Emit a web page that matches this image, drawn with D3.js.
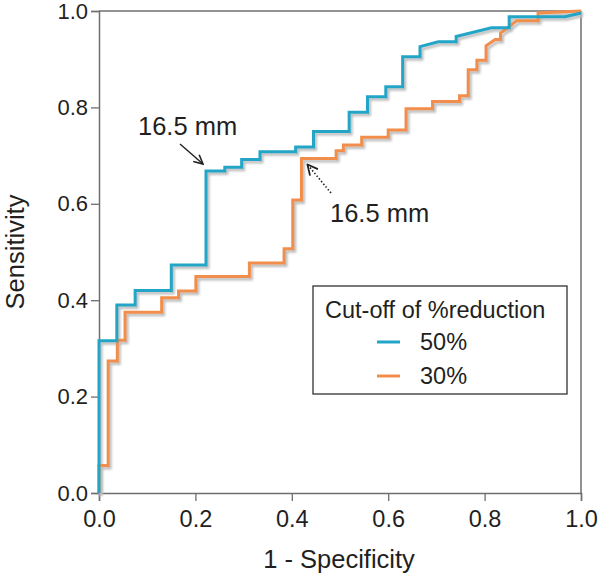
<!DOCTYPE html>
<html>
<head>
<meta charset="utf-8">
<script src="https://cdn.jsdelivr.net/npm/d3@7"></script>
<style>
  body { margin: 0; background: #fff; }
  text { font-family: "Liberation Sans", Arial, sans-serif; fill: #231f20; }
</style>
</head>
<body>
<div id="chart"></div>
<script>
// ROC vertices (1 - specificity, sensitivity)
const fpr50 = [0, 0, 0.037, 0.037, 0.075, 0.075, 0.150, 0.150, 0.222, 0.222, 0.261, 0.261, 0.296, 0.296,
  0.334, 0.334, 0.408, 0.408, 0.445, 0.445, 0.519, 0.519, 0.557, 0.557, 0.595, 0.595, 0.630, 0.630,
  0.666, 0.666, 0.704, 0.741, 0.741, 0.814, 0.851, 0.851, 0.967, 1.0];
const tpr50 = [0, 0.316, 0.316, 0.390, 0.390, 0.420, 0.420, 0.473, 0.473, 0.668, 0.668, 0.676, 0.676, 0.692,
  0.692, 0.708, 0.708, 0.718, 0.718, 0.750, 0.750, 0.790, 0.790, 0.822, 0.822, 0.843, 0.843, 0.905,
  0.905, 0.926, 0.936, 0.936, 0.947, 0.965, 0.965, 0.988, 0.988, 0.996];

const fpr30 = [0, 0, 0.019, 0.019, 0.038, 0.038, 0.054, 0.054, 0.130, 0.130, 0.165, 0.165, 0.201, 0.201,
  0.312, 0.312, 0.384, 0.384, 0.402, 0.402, 0.420, 0.420, 0.492, 0.492, 0.507, 0.507, 0.545, 0.545,
  0.600, 0.600, 0.637, 0.637, 0.692, 0.692, 0.748, 0.748, 0.766, 0.766, 0.784, 0.784, 0.803, 0.803,
  0.822, 0.833, 0.833, 0.867, 0.911, 0.911, 1.0];
const tpr30 = [0, 0.057, 0.057, 0.274, 0.274, 0.317, 0.317, 0.375, 0.375, 0.405, 0.405, 0.419, 0.419, 0.449,
  0.449, 0.477, 0.477, 0.507, 0.507, 0.608, 0.608, 0.694, 0.694, 0.710, 0.710, 0.722, 0.722, 0.738,
  0.738, 0.753, 0.753, 0.797, 0.797, 0.812, 0.812, 0.824, 0.824, 0.878, 0.878, 0.898, 0.898, 0.928,
  0.941, 0.941, 0.954, 0.980, 0.980, 0.996, 1.0];

const xTicks = [0, 0.2, 0.4, 0.6, 0.8, 1.0];
const yTicks = [0, 0.2, 0.4, 0.6, 0.8, 1.0];
const seriesNames = ["50%", "30%"];
const legendTitle = "Cut-off of %reduction";
const cutoffLabel = "16.5 mm";
// cut-off points marked by the arrows
const cut50 = [0.222, 0.668];
const cut30 = [0.420, 0.694];

const width = 600, height = 577;
const margin = { top: 11, right: 19, bottom: 84, left: 99 };
const innerW = width - margin.left - margin.right;
const innerH = height - margin.top - margin.bottom;

const colors = { "50%": "#22a5c6", "30%": "#f28e4b", axis: "#6d6e71", shadow: "#bdbdbd" };

const svg = d3.select("#chart").append("svg")
  .attr("width", width).attr("height", height);

const defs = svg.append("defs");
const blur = defs.append("filter").attr("id", "soft")
  .attr("x", "-5%").attr("y", "-5%").attr("width", "110%").attr("height", "110%");
blur.append("feGaussianBlur").attr("stdDeviation", 0.8);
const arrowHead = (id, sz) => defs.append("marker").attr("id", id)
  .attr("viewBox", "0 0 10 10").attr("refX", 9).attr("refY", 5)
  .attr("markerWidth", sz).attr("markerHeight", sz).attr("orient", "auto")
  .append("path").attr("d", "M1,1 L9,5 L1,9").attr("fill", "none")
  .attr("stroke", "#231f20").attr("stroke-width", 1.4);
arrowHead("arr", 8);
arrowHead("arr2", 8);

const g = svg.append("g").attr("transform", `translate(${margin.left},${margin.top})`);

const x = d3.scaleLinear().domain([0, 1]).range([0, innerW]);
const y = d3.scaleLinear().domain([0, 1]).range([innerH, 0]);

// frame
g.append("line").attr("x1", 0).attr("x2", innerW).attr("y1", 0).attr("y2", 0)
  .attr("stroke", colors.axis).attr("stroke-width", 1.5);
g.append("line").attr("x1", innerW).attr("x2", innerW).attr("y1", 0).attr("y2", innerH)
  .attr("stroke", colors.axis).attr("stroke-width", 1.5);

// axes
const xAxis = g.append("g").attr("transform", `translate(0,${innerH})`)
  .call(d3.axisBottom(x).tickValues(xTicks).tickFormat(d3.format(".1f")).tickSizeOuter(0).tickSize(8).tickPadding(9));
const yAxis = g.append("g")
  .call(d3.axisLeft(y).tickValues(yTicks).tickFormat(d3.format(".1f")).tickSizeOuter(0).tickSize(8).tickPadding(3));
[xAxis, yAxis].forEach(a => {
  a.select(".domain").attr("stroke", colors.axis).attr("stroke-width", 1.5);
  a.selectAll(".tick line").attr("stroke", colors.axis).attr("stroke-width", 1.3);
  a.selectAll(".tick text").style("font-family", "Liberation Sans, Arial, sans-serif")
    .attr("fill", "#231f20");
});
xAxis.selectAll(".tick text").style("font-size", "23.5px");
yAxis.selectAll(".tick text").style("font-size", "22px");

// curves
const line = d3.line().x(d => x(d[0])).y(d => y(d[1]));
const series = [
  { name: "30%", pts: d3.zip(fpr30, tpr30) },
  { name: "50%", pts: d3.zip(fpr50, tpr50) }
];
series.forEach(s => {
  g.append("path").attr("d", line(s.pts)).attr("fill", "none")
    .attr("stroke", colors.shadow).attr("stroke-width", 3)
    .attr("transform", "translate(2,2.5)").attr("filter", "url(#soft)");
});
series.forEach(s => {
  g.append("path").attr("d", line(s.pts)).attr("fill", "none")
    .attr("stroke", colors[s.name]).attr("stroke-width", 3)
    .attr("stroke-linejoin", "miter");
});

// annotations
g.append("text").attr("x", 39).attr("y", 124).style("font-size", "25.5px").text(cutoffLabel);
g.append("line").attr("x1", 81).attr("y1", 133).attr("x2", x(cut50[0]) - 3).attr("y2", y(cut50[1]) - 7)
  .attr("stroke", "#231f20").attr("stroke-width", 1.4).attr("marker-end", "url(#arr)");
g.append("text").attr("x", 231).attr("y", 211).style("font-size", "25.5px").text(cutoffLabel);
g.append("line").attr("x1", 232).attr("y1", 182).attr("x2", x(cut30[0]) + 6).attr("y2", y(cut30[1]) + 6)
  .attr("stroke", "#231f20").attr("stroke-width", 1.6).attr("stroke-dasharray", "1.5,2")
  .attr("marker-end", "url(#arr2)");

// axis titles
svg.append("text").attr("x", margin.left + innerW / 2 - 1).attr("y", 568)
  .attr("text-anchor", "middle").style("font-size", "25.5px").text("1 - Specificity");
svg.append("text").attr("transform", `translate(24,${margin.top + innerH / 2}) rotate(-90)`)
  .attr("text-anchor", "middle").style("font-size", "25.5px").text("Sensitivity");

// legend
const lg = svg.append("g").attr("transform", "translate(313,286)");
lg.append("rect").attr("width", 254).attr("height", 108).attr("fill", "#fff")
  .attr("stroke", "#231f20").attr("stroke-width", 1.2);
lg.append("text").attr("x", 12).attr("y", 32).style("font-size", "23.5px").text(legendTitle);
seriesNames.forEach((n, i) => {
  const ly = 56 + i * 34;
  lg.append("line").attr("x1", 66).attr("x2", 89).attr("y1", ly + 2).attr("y2", ly + 2)
    .attr("stroke", colors.shadow).attr("stroke-width", 3).attr("filter", "url(#soft)");
  lg.append("line").attr("x1", 64).attr("x2", 87).attr("y1", ly).attr("y2", ly)
    .attr("stroke", colors[n]).attr("stroke-width", 3);
  lg.append("text").attr("x", 107).attr("y", ly + 8).style("font-size", "23.5px").text(n);
});
</script>
</body>
</html>
